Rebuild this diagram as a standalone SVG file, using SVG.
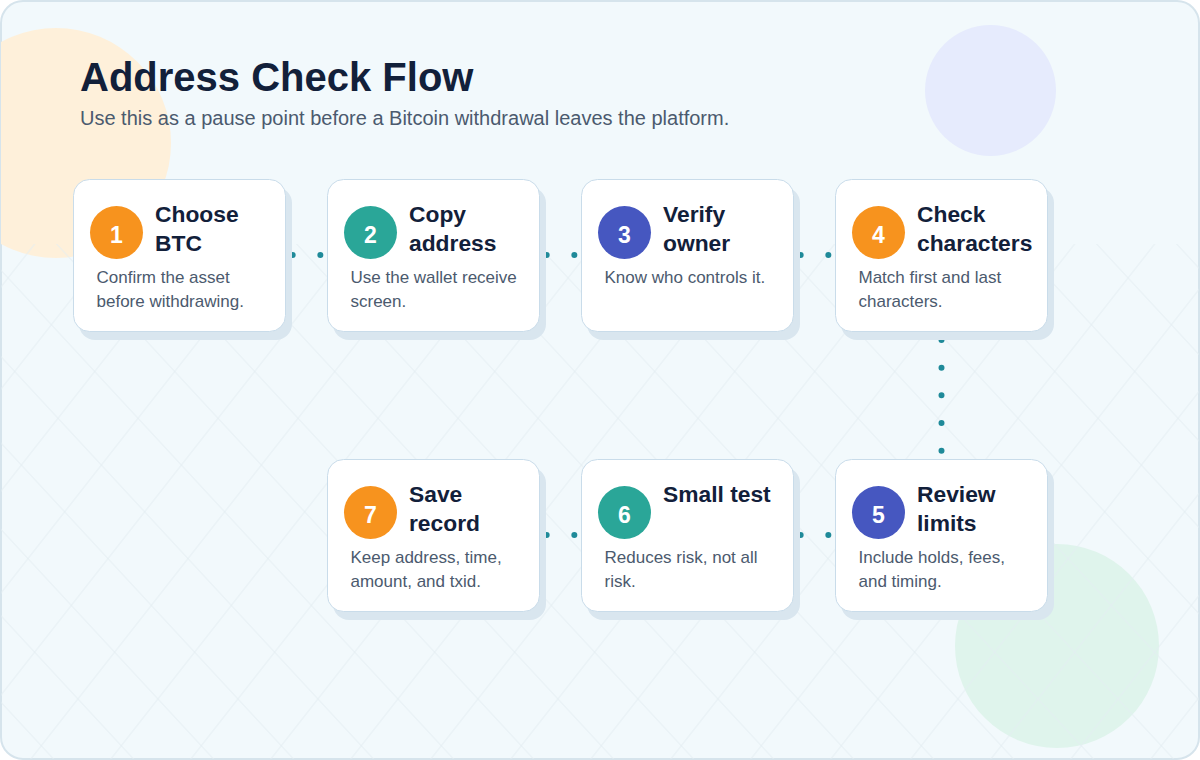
<svg xmlns="http://www.w3.org/2000/svg" width="1200" height="760" viewBox="0 0 1200 760">
  <defs>
    <style>
      .bg { fill: #f2f9fc; stroke: #d6e4ec; stroke-width: 2; }
      .shadow { fill: #d9e6ef; }
      .card { fill: #ffffff; stroke: #c9dcea; stroke-width: 1; }
      .orange { fill: #f7931e; }
      .teal { fill: #2aa698; }
      .indigo { fill: #4657c0; }
      .num { font-family: "Liberation Sans", Arial, sans-serif; font-size: 23px; font-weight: 700; fill: #ffffff; text-anchor: middle; }
      .title { font-family: "Liberation Sans", Arial, sans-serif; font-size: 22.8px; font-weight: 700; fill: #12203a; }
      .desc { font-family: "Liberation Sans", Arial, sans-serif; font-size: 17px; fill: #4b5a6e; }
      .h1 { font-family: "Liberation Sans", Arial, sans-serif; font-size: 40px; font-weight: 700; fill: #12203a; }
      .sub { font-family: "Liberation Sans", Arial, sans-serif; font-size: 20px; fill: #4b5a6e; }
      .conn { fill: none; stroke: #1f8a99; stroke-width: 6; stroke-linecap: round; stroke-dasharray: 0 27.67; }
      .grid { stroke: #e3edf2; stroke-width: 1; }
    </style>
    <clipPath id="bgclip">
      <rect x="1" y="1" width="1198" height="758" rx="22"/>
    </clipPath>
    <pattern id="diagA" patternUnits="userSpaceOnUse" width="80" height="20" patternTransform="translate(30.7,0) skewX(42.8)">
      <line class="grid" x1="40" y1="-1" x2="40" y2="21"/>
    </pattern>
    <pattern id="diagB" patternUnits="userSpaceOnUse" width="80" height="20" patternTransform="translate(26,0) skewX(-38.1)">
      <line class="grid" x1="40" y1="-1" x2="40" y2="21"/>
    </pattern>
  </defs>

  <g id="background">
    <rect class="bg" x="1" y="1" width="1198" height="758" rx="22"/>
    <g clip-path="url(#bgclip)">
      <circle cx="56" cy="143" r="115" fill="#fef0da"/>
      <circle cx="990.5" cy="90.5" r="65.5" fill="#e6ebfd"/>
      <circle cx="1057" cy="646" r="102" fill="#dff4ec"/>
      <rect x="0" y="244" width="1200" height="516" fill="url(#diagA)"/>
      <rect x="0" y="244" width="1200" height="516" fill="url(#diagB)"/>
    </g>
  </g>

  <g id="heading">
    <text class="h1" x="80" y="91">Address Check Flow</text>
    <text class="sub" x="80" y="125">Use this as a pause point before a Bitcoin withdrawal leaves the platform.</text>
  </g>

  <g id="connectors">
    <path class="conn" d="M265 255 H348"/>
    <path class="conn" d="M519 255 H602"/>
    <path class="conn" d="M773 255 H856"/>
    <path class="conn" d="M941.5 312.3 V478.3"/>
    <path class="conn" d="M856 535 H773"/>
    <path class="conn" d="M602 535 H519"/>
  </g>

  <g id="step-1" transform="translate(73,179)">
    <rect class="shadow" x="6" y="8" width="213" height="153" rx="16"/>
    <rect class="card" x="0.5" y="0.5" width="212" height="152" rx="16"/>
    <circle class="orange" cx="43.5" cy="53.5" r="26.5"/>
    <text class="num" x="43.5" y="64">1</text>
    <text class="title"><tspan x="82" y="43">Choose</tspan><tspan x="82" y="72">BTC</tspan></text>
    <text class="desc"><tspan x="23.5" y="104">Confirm the asset</tspan><tspan x="23.5" y="128">before withdrawing.</tspan></text>
  </g>

  <g id="step-2" transform="translate(327,179)">
    <rect class="shadow" x="6" y="8" width="213" height="153" rx="16"/>
    <rect class="card" x="0.5" y="0.5" width="212" height="152" rx="16"/>
    <circle class="teal" cx="43.5" cy="53.5" r="26.5"/>
    <text class="num" x="43.5" y="64">2</text>
    <text class="title"><tspan x="82" y="43">Copy</tspan><tspan x="82" y="72">address</tspan></text>
    <text class="desc"><tspan x="23.5" y="104">Use the wallet receive</tspan><tspan x="23.5" y="128">screen.</tspan></text>
  </g>

  <g id="step-3" transform="translate(581,179)">
    <rect class="shadow" x="6" y="8" width="213" height="153" rx="16"/>
    <rect class="card" x="0.5" y="0.5" width="212" height="152" rx="16"/>
    <circle class="indigo" cx="43.5" cy="53.5" r="26.5"/>
    <text class="num" x="43.5" y="64">3</text>
    <text class="title"><tspan x="82" y="43">Verify</tspan><tspan x="82" y="72">owner</tspan></text>
    <text class="desc"><tspan x="23.5" y="104">Know who controls it.</tspan></text>
  </g>

  <g id="step-4" transform="translate(835,179)">
    <rect class="shadow" x="6" y="8" width="213" height="153" rx="16"/>
    <rect class="card" x="0.5" y="0.5" width="212" height="152" rx="16"/>
    <circle class="orange" cx="43.5" cy="53.5" r="26.5"/>
    <text class="num" x="43.5" y="64">4</text>
    <text class="title"><tspan x="82" y="43">Check</tspan><tspan x="82" y="72">characters</tspan></text>
    <text class="desc"><tspan x="23.5" y="104">Match first and last</tspan><tspan x="23.5" y="128">characters.</tspan></text>
  </g>

  <g id="step-5" transform="translate(835,459)">
    <rect class="shadow" x="6" y="8" width="213" height="153" rx="16"/>
    <rect class="card" x="0.5" y="0.5" width="212" height="152" rx="16"/>
    <circle class="indigo" cx="43.5" cy="53.5" r="26.5"/>
    <text class="num" x="43.5" y="64">5</text>
    <text class="title"><tspan x="82" y="43">Review</tspan><tspan x="82" y="72">limits</tspan></text>
    <text class="desc"><tspan x="23.5" y="104">Include holds, fees,</tspan><tspan x="23.5" y="128">and timing.</tspan></text>
  </g>

  <g id="step-6" transform="translate(581,459)">
    <rect class="shadow" x="6" y="8" width="213" height="153" rx="16"/>
    <rect class="card" x="0.5" y="0.5" width="212" height="152" rx="16"/>
    <circle class="teal" cx="43.5" cy="53.5" r="26.5"/>
    <text class="num" x="43.5" y="64">6</text>
    <text class="title"><tspan x="82" y="43">Small test</tspan></text>
    <text class="desc"><tspan x="23.5" y="104">Reduces risk, not all</tspan><tspan x="23.5" y="128">risk.</tspan></text>
  </g>

  <g id="step-7" transform="translate(327,459)">
    <rect class="shadow" x="6" y="8" width="213" height="153" rx="16"/>
    <rect class="card" x="0.5" y="0.5" width="212" height="152" rx="16"/>
    <circle class="orange" cx="43.5" cy="53.5" r="26.5"/>
    <text class="num" x="43.5" y="64">7</text>
    <text class="title"><tspan x="82" y="43">Save</tspan><tspan x="82" y="72">record</tspan></text>
    <text class="desc"><tspan x="23.5" y="104">Keep address, time,</tspan><tspan x="23.5" y="128">amount, and txid.</tspan></text>
  </g>
</svg>
